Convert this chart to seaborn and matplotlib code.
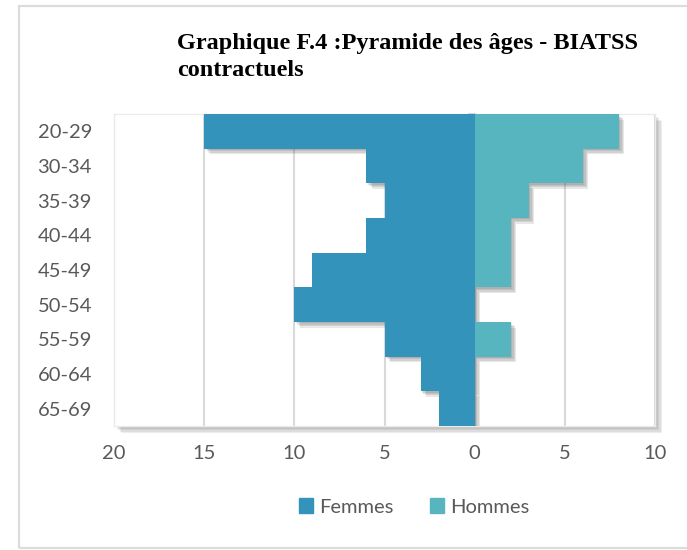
"""Pyramide des âges - BIATSS contractuels (Graphique F.4)."""

import matplotlib
matplotlib.use("Agg")
import matplotlib.pyplot as plt
import matplotlib.patheffects as pe
from matplotlib.patches import Rectangle, Patch
from matplotlib.ticker import FuncFormatter
import numpy as np
import pandas as pd
import seaborn as sns

# data
ages = ["20-29", "30-34", "35-39", "40-44", "45-49", "50-54", "55-59", "60-64", "65-69"]
femmes = [15, 6, 5, 6, 9, 10, 5, 3, 2]
hommes = [8, 6, 3, 2, 2, 0, 2, 0, 0]
x_ticks = [-20, -15, -10, -5, 0, 5, 10]
colors = {"Femmes": "#3493BA", "Hommes": "#57B5BF"}

df = pd.DataFrame({
    "age": ages * 2,
    "sexe": ["Femmes"] * len(ages) + ["Hommes"] * len(ages),
    "valeur": [-v for v in femmes] + hommes,
})

sns.set_theme(style="white")
plt.rcParams["font.family"] = ["Lato", "DejaVu Sans"]
GREY = "#595959"


def soft_shadow(color, alpha, steps=4):
    # stacked offset shadows fake a small blur
    effects = [pe.SimplePatchShadow(offset=(i, -i), shadow_rgbFace=color, alpha=alpha)
               for i in range(steps, 0, -1)]
    return effects + [pe.Normal()]


fig = plt.figure(figsize=(6.87, 5.5), dpi=100)
ax = fig.add_axes([114 / 687, 1 - 426 / 550, 541 / 687, 312 / 550])

sns.barplot(data=df, y="age", x="valeur", hue="sexe", order=ages, orient="h",
            dodge=False, width=1.0, palette=colors, saturation=1, linewidth=0,
            legend=False, ax=ax)

for bar in ax.patches:
    bar.set_path_effects(soft_shadow("#555555", 0.14))
    bar.set_zorder(3)

ax.set_xlim(x_ticks[0], x_ticks[-1])
ax.set_ylim(len(ages) - 0.5, -0.5)
ax.set_xticks(x_ticks)
ax.xaxis.set_major_formatter(FuncFormatter(lambda v, _: f"{abs(v):.0f}"))
ax.grid(axis="x", color="#D9D9D9", linewidth=1.5, zorder=0)
ax.grid(axis="y", visible=False)
ax.set_axisbelow(True)
ax.set_xlabel("")
ax.set_ylabel("")
ax.tick_params(axis="both", length=0, labelsize=14.5, labelcolor=GREY)
ax.tick_params(axis="x", pad=14)
for lab in ax.get_yticklabels():
    lab.set_horizontalalignment("left")
ax.yaxis.set_tick_params(pad=55)
for s in ax.spines.values():
    s.set_color("#EBEBEB")
    s.set_linewidth(1)
ax.patch.set_path_effects(soft_shadow("#777777", 0.13, steps=5))

# vertical axis at zero with tick marks between categories
zero_pos = (0 - x_ticks[0]) / (x_ticks[-1] - x_ticks[0])
sec = ax.secondary_yaxis(zero_pos)
sec.set_yticks(np.arange(len(ages) + 1) - 0.5, labels=[])
sec.set_alignment("left")
sec.tick_params(direction="out", length=5, width=1.5, color="#D0D0D0")
sec.spines["left"].set_color("#D0D0D0")
sec.spines["left"].set_linewidth(1.5)

handles = [Patch(color=colors[k], label=k) for k in colors]
fig.legend(handles=handles, loc="center", bbox_to_anchor=(414 / 687, 1 - 507 / 550), ncol=2,
           frameon=False, fontsize=14.5, labelcolor=GREY, handlelength=0.7, handleheight=0.7,
           handletextpad=0.3, columnspacing=1.8)

fig.text(177 / 687, 1 - 33 / 550, "Graphique F.4 :Pyramide des âges - BIATSS\ncontractuels",
         ha="left", va="top", family="Liberation Serif", fontweight="bold", fontsize=17.5,
         linespacing=1.4, color="black")

fig.patches.append(Rectangle((19 / 687, 2 / 550), 680 / 687, 542 / 550, transform=fig.transFigure,
                             fill=False, edgecolor="#DCDCDC", linewidth=1.6))

fig.savefig("out.png", dpi=100)
